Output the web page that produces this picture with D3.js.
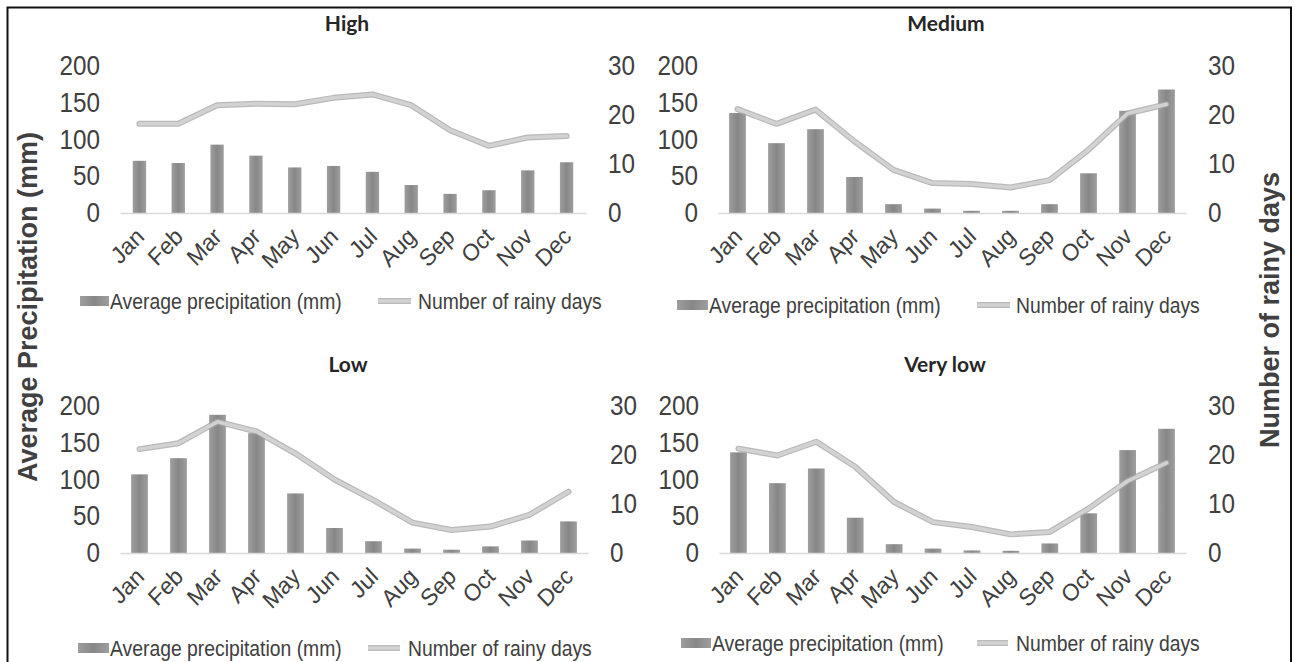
<!DOCTYPE html>
<html><head><meta charset="utf-8">
<script src="https://cdn.jsdelivr.net/npm/d3@7"></script>
<style>body{margin:0;background:#fff} svg{display:block}</style>
</head><body><svg id="c" width="1295" height="662"></svg>
<script>
// ---- data ----
const months = ["Jan","Feb","Mar","Apr","May","Jun","Jul","Aug","Sep","Oct","Nov","Dec"];
const precipTicks = [0, 50, 100, 150, 200];
const daysTicks = [0, 10, 20, 30];
const panelTitles = ["High", "Medium", "Low", "Very low"];
const legendLabels = ["Average precipitation (mm)", "Number of rainy days"];
const axisTitles = ["Average Precipitation (mm)", "Number of rainy days"];

const highPrecip    = [71, 68, 93, 78, 62, 64, 56, 38, 26, 31, 58, 69];
const highDays      = [18.2, 18.2, 22.0, 22.3, 22.2, 23.5, 24.2, 22.0, 16.9, 13.7, 15.4, 15.7];
const mediumPrecip  = [136, 95, 114, 49, 12, 6, 3, 3, 12, 54, 139, 168];
const mediumDays    = [21.2, 18.2, 21.1, 14.6, 8.8, 6.1, 5.9, 5.2, 6.7, 12.9, 20.3, 22.2];
const lowPrecip     = [107, 129, 188, 163, 81, 34, 16, 6, 4.5, 9, 17, 43];
const lowDays       = [21.2, 22.4, 26.8, 24.8, 20.3, 15.0, 10.8, 6.2, 4.7, 5.4, 7.8, 12.5];
const veryLowPrecip = [137, 95, 115, 48, 12, 6, 3.5, 3, 13, 54, 140, 169];
const veryLowDays   = [21.3, 19.9, 22.7, 17.6, 10.4, 6.3, 5.3, 3.8, 4.3, 9.1, 14.7, 18.4];

const precipSeries = [highPrecip, mediumPrecip, lowPrecip, veryLowPrecip];
const daysSeries = [highDays, mediumDays, lowDays, veryLowDays];

// ---- layout ----
const layouts = [
  {x0:120, x1:586,  y0:213, y1:66,  pad:0.657, tx:347, ty:31,  leg:{y:301, sw:80,  tx:110, lx0:378, lx1:411,  ltx:418}},
  {x0:718, x1:1186, y0:213, y1:66,  pad:0.57,  tx:946, ty:31,  leg:{y:305, sw:677, tx:709, lx0:977, lx1:1010, ltx:1016}},
  {x0:120, x1:588,  y0:553, y1:406, pad:0.57,  tx:348, ty:372, leg:{y:648, sw:78,  tx:110, lx0:368, lx1:400,  ltx:408}},
  {x0:719, x1:1186, y0:553, y1:406, pad:0.57,  tx:945, ty:372, leg:{y:643, sw:681, tx:712, lx0:977, lx1:1008, ltx:1016}}
];
const SX = 0.9; // horizontal squeeze of the original lettering

const svg = d3.select("#c");
const defs = svg.append("defs");
const grad = defs.append("linearGradient").attr("id","barg").attr("x1","0").attr("x2","1").attr("y1","0").attr("y2","0");
grad.append("stop").attr("offset","0").attr("stop-color","#9e9e9e");
grad.append("stop").attr("offset","0.5").attr("stop-color","#878787");
grad.append("stop").attr("offset","1").attr("stop-color","#9e9e9e");

// frame
svg.append("path").attr("d","M7.5,662 V7.5 H1291 V662").attr("fill","none").attr("stroke","#111").attr("stroke-width",2);

const tickFont = "'Liberation Sans', Arial, sans-serif";

function squeeze(sel) {
  sel.each(function() {
    const t = d3.select(this);
    const x = +t.attr("x") || 0;
    t.attr("x", 0).attr("transform", `translate(${x},0) scale(${SX},1)`);
  });
}

layouts.forEach((L, i) => {
  const g = svg.append("g");
  const x = d3.scaleBand().domain(months).range([L.x0, L.x1]).paddingInner(L.pad).paddingOuter(L.pad/2);
  const yP = d3.scaleLinear().domain([0, 200]).range([L.y0, L.y1]);
  const yD = d3.scaleLinear().domain([0, 30]).range([L.y0, L.y1]);

  // title
  g.append("text").attr("x", L.tx).attr("y", L.ty).attr("text-anchor","middle")
    .style("font-family","Lato, 'Open Sans', sans-serif").style("font-weight","bold").style("font-size","21px")
    .attr("fill","#262626").text(panelTitles[i]);

  // left axis
  const la = g.append("g").attr("transform", `translate(${L.x0},0)`)
    .call(d3.axisLeft(yP).tickValues(precipTicks).tickSize(0).tickPadding(20));
  la.select(".domain").remove();
  la.selectAll("text").style("font-family", tickFont).style("font-size","27px").attr("fill","#404040").call(squeeze);

  // right axis
  const ra = g.append("g").attr("transform", `translate(${L.x1},0)`)
    .call(d3.axisRight(yD).tickValues(daysTicks).tickSize(0).tickPadding(22));
  ra.select(".domain").remove();
  ra.selectAll("text").style("font-family", tickFont).style("font-size","27px").attr("fill","#404040").call(squeeze);

  // bars
  g.selectAll("rect.bar").data(precipSeries[i]).join("rect").attr("class","bar")
    .attr("x", (d, k) => x(months[k])).attr("width", x.bandwidth())
    .attr("y", d => yP(d)).attr("height", d => yP(0) - yP(d))
    .attr("fill","url(#barg)");

  // bottom axis
  const ba = g.append("g").attr("transform", `translate(0,${L.y0})`)
    .call(d3.axisBottom(x).tickSize(0).tickSizeOuter(0));
  ba.select(".domain").attr("stroke","#d9d9d9").attr("stroke-width",1.5);
  ba.selectAll("text").style("font-family", tickFont).style("font-size","24px").attr("fill","#404040")
    .attr("text-anchor","end").attr("dy", null).attr("y", null)
    .attr("transform", `translate(6,25) scale(0.93,1) rotate(-45)`);

  // line
  const line = d3.line().x((d, k) => x(months[k]) + x.bandwidth()/2).y(d => yD(d));
  g.append("path").datum(daysSeries[i]).attr("d", line).attr("fill","none")
    .attr("stroke","#a9a9a9").attr("stroke-width",6).attr("stroke-linejoin","round").attr("stroke-linecap","round").attr("opacity",0.8);
  g.append("path").datum(daysSeries[i]).attr("d", line).attr("fill","none")
    .attr("stroke","#d2d2d2").attr("stroke-width",3.5).attr("stroke-linejoin","round").attr("stroke-linecap","round");

  // legend
  const lg = L.leg;
  g.append("rect").attr("x", lg.sw).attr("y", lg.y - 5).attr("width", lg.tx - lg.sw - 1).attr("height", 10).attr("fill","url(#barg)");
  g.append("text").attr("transform", `translate(${lg.tx},${lg.y + 7.5}) scale(${SX},1)`).style("font-family", tickFont).style("font-size","21.5px")
    .attr("fill","#404040").text(legendLabels[0]);
  g.append("line").attr("x1", lg.lx0).attr("x2", lg.lx1).attr("y1", lg.y).attr("y2", lg.y)
    .attr("stroke","#a9a9a9").attr("stroke-width",6).attr("opacity",0.8);
  g.append("line").attr("x1", lg.lx0).attr("x2", lg.lx1).attr("y1", lg.y).attr("y2", lg.y)
    .attr("stroke","#d2d2d2").attr("stroke-width",3.5);
  g.append("text").attr("transform", `translate(${lg.ltx},${lg.y + 7.5}) scale(${SX},1)`).style("font-family", tickFont).style("font-size","21.5px")
    .attr("fill","#404040").text(legendLabels[1]);
});

// axis titles
svg.append("text").attr("transform","translate(37,307) rotate(-90)").attr("text-anchor","middle")
  .style("font-family", tickFont).style("font-weight","bold").style("font-size","27px").attr("fill","#404040").text(axisTitles[0]);
svg.append("text").attr("transform","translate(1279,310) rotate(-90)").attr("text-anchor","middle")
  .style("font-family", tickFont).style("font-weight","bold").style("font-size","27px").attr("fill","#404040").text(axisTitles[1]);
</script></body></html>
